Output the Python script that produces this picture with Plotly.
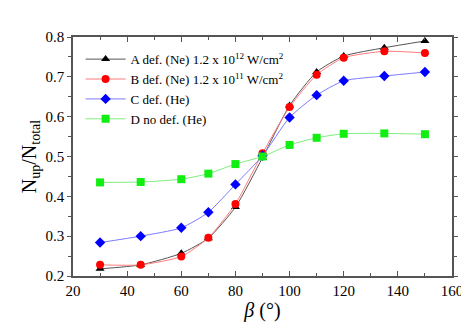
import plotly.graph_objects as go

beta = [30, 45, 60, 70, 80, 90, 100, 110, 120, 135, 150]
series_a = [0.218, 0.228, 0.257, 0.295, 0.373, 0.497, 0.628, 0.712, 0.752, 0.773, 0.790]
series_b = [0.228, 0.228, 0.249, 0.296, 0.381, 0.508, 0.624, 0.705, 0.748, 0.764, 0.760]
series_c = [0.284, 0.300, 0.321, 0.360, 0.430, 0.502, 0.598, 0.654, 0.690, 0.702, 0.712]
series_d = [0.435, 0.436, 0.443, 0.457, 0.481, 0.500, 0.529, 0.547, 0.557, 0.558, 0.556]

names = [
    "A def. (Ne) 1.2 x 10<sup>12</sup> W/cm<sup>2</sup>",
    "B def. (Ne) 1.2 x 10<sup>11</sup> W/cm<sup>2</sup>",
    "C def. (He)",
    "D no def. (He)",
]
styles = [
    ("triangle-up", "black", "#555555"),
    ("circle", "red", "#ff7b7b"),
    ("diamond", "blue", "#7b7bff"),
    ("square", "#11ee11", "#80ee80"),
]

FONT = "Liberation Serif"
AX = "#555555"

fig = go.Figure()
for name, ys, (sym, mcol, lcol) in zip(names, [series_a, series_b, series_c, series_d], styles):
    fig.add_trace(go.Scatter(
        x=beta, y=ys, name=name, mode="lines+markers",
        line=dict(color=lcol, width=1, shape="spline", smoothing=0.6),
        marker=dict(symbol=sym, color=mcol, size=8),
    ))

tickfont = dict(family=FONT, size=15, color="black")

# the page body adds an 8px offset, margins are shifted to make up for it
fig.update_layout(
    width=469, height=331,
    margin=dict(l=65, r=25, t=29, b=63),
    plot_bgcolor="white", paper_bgcolor="white",
    font=dict(family=FONT, color="black"),
    showlegend=True,
    legend=dict(
        x=0.02, y=0.97, xanchor="left", yanchor="top",
        bgcolor="rgba(0,0,0,0)", font=dict(family=FONT, size=13),
        tracegroupgap=0, itemwidth=40,
    ),
)
fig.update_xaxes(
    range=[20, 160], dtick=20,
    showline=True, linecolor=AX, linewidth=1.5, mirror="ticks",
    ticks="inside", ticklen=5, tickcolor=AX, showgrid=False, zeroline=False,
    tickfont=tickfont,
    minor=dict(ticks="inside", dtick=10, ticklen=3, tickcolor=AX),
    title=dict(text="<i>β</i> (°)", font=dict(family=FONT, size=20), standoff=4),
)
fig.update_yaxes(
    range=[0.2, 0.8], dtick=0.1, tickformat=".1f",
    showline=True, linecolor=AX, linewidth=1.5, mirror="ticks",
    ticks="outside", ticklen=4, tickcolor=AX, showgrid=False, zeroline=False,
    tickfont=tickfont,
    minor=dict(ticks="outside", dtick=0.05, ticklen=3, tickcolor=AX),
    title=dict(text="N<sub>up</sub>/N<sub>total</sub>", font=dict(family=FONT, size=20), standoff=4),
)

fig.write_html("out.html")
